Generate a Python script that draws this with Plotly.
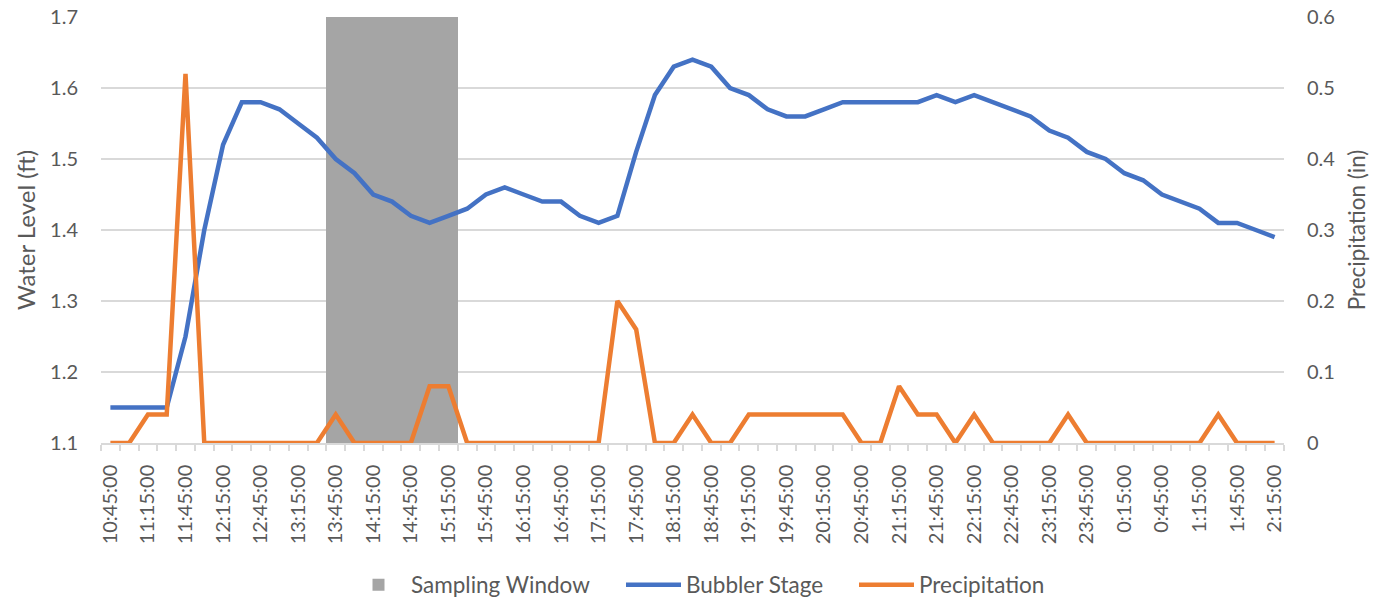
import plotly.graph_objects as go

# 15-minute time steps (10:45 through 2:15 the next morning)
times = [
    "10:45:00", "11:00:00", "11:15:00", "11:30:00", "11:45:00", "12:00:00", "12:15:00", "12:30:00",
    "12:45:00", "13:00:00", "13:15:00", "13:30:00", "13:45:00", "14:00:00", "14:15:00", "14:30:00",
    "14:45:00", "15:00:00", "15:15:00", "15:30:00", "15:45:00", "16:00:00", "16:15:00", "16:30:00",
    "16:45:00", "17:00:00", "17:15:00", "17:30:00", "17:45:00", "18:00:00", "18:15:00", "18:30:00",
    "18:45:00", "19:00:00", "19:15:00", "19:30:00", "19:45:00", "20:00:00", "20:15:00", "20:30:00",
    "20:45:00", "21:00:00", "21:15:00", "21:30:00", "21:45:00", "22:00:00", "22:15:00", "22:30:00",
    "22:45:00", "23:00:00", "23:15:00", "23:30:00", "23:45:00", "0:00:00", "0:15:00", "0:30:00",
    "0:45:00", "1:00:00", "1:15:00", "1:30:00", "1:45:00", "2:00:00", "2:15:00",
]

# Bubbler stage water level (ft)
bubbler_stage = [
    1.15, 1.15, 1.15, 1.15, 1.25, 1.40, 1.52, 1.58, 1.58, 1.57, 1.55, 1.53, 1.50, 1.48, 1.45, 1.44,
    1.42, 1.41, 1.42, 1.43, 1.45, 1.46, 1.45, 1.44, 1.44, 1.42, 1.41, 1.42, 1.51, 1.59, 1.63, 1.64,
    1.63, 1.60, 1.59, 1.57, 1.56, 1.56, 1.57, 1.58, 1.58, 1.58, 1.58, 1.58, 1.59, 1.58, 1.59, 1.58,
    1.57, 1.56, 1.54, 1.53, 1.51, 1.50, 1.48, 1.47, 1.45, 1.44, 1.43, 1.41, 1.41, 1.40, 1.39,
]

# Precipitation per interval (in)
precipitation = [
    0, 0, 0.04, 0.04, 0.52, 0, 0, 0, 0, 0, 0, 0, 0.04, 0, 0, 0,
    0, 0.08, 0.08, 0, 0, 0, 0, 0, 0, 0, 0, 0.20, 0.16, 0, 0, 0.04,
    0, 0, 0.04, 0.04, 0.04, 0.04, 0.04, 0.04, 0, 0, 0.08, 0.04, 0.04, 0, 0.04, 0,
    0, 0, 0, 0.04, 0, 0, 0, 0, 0, 0, 0, 0.04, 0, 0, 0,
]

# Sampling window: 13:45 through 15:15, drawn as full-height columns
sampling_start, sampling_end = "13:45:00", "15:15:00"
sampling_top = 1.7

idx = list(range(len(times)))
i0, i1 = times.index(sampling_start), times.index(sampling_end)
sampling_window = [sampling_top if i0 <= i <= i1 else None for i in idx]

# every other time step is labelled
tick_idx = idx[::2]
tick_text = [times[i] for i in tick_idx]

FONT = "Lato, 'Open Sans', sans-serif"
TXT = "#595959"
GRID = "#D9D9D9"
W, H = 1376, 599

fig = go.Figure()

fig.add_trace(go.Bar(
    x=idx, y=sampling_window, name="Sampling Window",
    marker=dict(color="#A5A5A5", line=dict(width=0)),
    width=1.0, yaxis="y", legend="legend",
))
fig.add_trace(go.Scatter(
    x=idx, y=bubbler_stage, name="Bubbler Stage", mode="lines",
    line=dict(color="#4472C4", width=4.5),
    yaxis="y", legend="legend2",
))
fig.add_trace(go.Scatter(
    x=idx, y=precipitation, name="Precipitation", mode="lines",
    line=dict(color="#ED7D31", width=4.5),
    yaxis="y2", legend="legend3",
))


def legend_at(px_left):
    # one legend box per entry, laid out along the bottom of the figure
    return dict(
        orientation="h", xref="container", yref="container",
        x=px_left / W, xanchor="left", y=1 - 585 / H, yanchor="middle",
        font=dict(size=22.5, color=TXT, family=FONT), itemwidth=55,
        bgcolor="rgba(0,0,0,0)", borderwidth=0,
    )


fig.update_layout(
    width=W, height=H,
    margin=dict(l=101, r=92, t=17, b=156, autoexpand=False),
    paper_bgcolor="white", plot_bgcolor="white",
    font=dict(family=FONT, color=TXT, size=20),
    bargap=0, showlegend=True,
    legend=legend_at(346),
    legend2=legend_at(621),
    legend3=legend_at(854),
    xaxis=dict(
        range=[-0.5, len(times) - 0.5],
        tickmode="array", tickvals=tick_idx, ticktext=tick_text,
        tickangle=-90, ticks="", showgrid=False, automargin=False,
        showline=True, linecolor=GRID, linewidth=1.5,
        tickfont=dict(size=20, color=TXT), ticklabelstandoff=12,
        minor=dict(tickmode="linear", tick0=-0.5, dtick=1, ticks="outside",
                   ticklen=6, tickcolor=GRID, tickwidth=1.5, showgrid=False),
        zeroline=False,
    ),
    yaxis=dict(
        range=[1.1, 1.7], dtick=0.1, tick0=1.1, automargin=False,
        showgrid=True, gridcolor=GRID, gridwidth=1.5,
        zeroline=False, showline=False, ticks="",
        tickfont=dict(size=20, color=TXT), ticklabelstandoff=22,
        title=dict(text="Water Level (ft)", font=dict(size=24, color=TXT), standoff=7),
    ),
    yaxis2=dict(
        range=[0, 0.6], dtick=0.1, tick0=0, automargin=False,
        overlaying="y", side="right",
        showgrid=False, zeroline=False, showline=False, ticks="",
        tickfont=dict(size=20, color=TXT), ticklabelstandoff=22,
        title=dict(text="Precipitation (in)", font=dict(size=22.5, color=TXT), standoff=14),
    ),
)

fig.write_html("out.html")
